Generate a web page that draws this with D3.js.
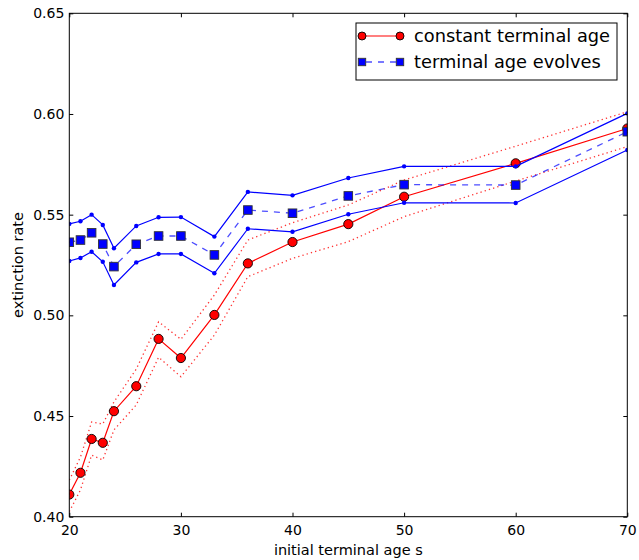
<!DOCTYPE html>
<html>
<head>
<meta charset="utf-8">
<script src="https://cdn.jsdelivr.net/npm/d3@7/dist/d3.min.js"></script>
<style>
  html, body { margin: 0; padding: 0; background: #fff; }
  svg { display: block; font-family: "DejaVu Sans", sans-serif; }
</style>
</head>
<body>
<svg id="chart" width="639" height="560"></svg>
<script>
// initial terminal age s
const ages = [20, 21, 22, 23, 24, 26, 28, 30, 33, 36, 40, 45, 50, 60, 70];

// constant terminal age: mean and dotted error band
const constMean  = [0.4110, 0.4218, 0.4386, 0.4367, 0.4524, 0.4648, 0.4883, 0.4788, 0.5002, 0.5258, 0.5364, 0.5453, 0.5589, 0.5755, 0.5928];
const constUpper = [0.4182, 0.4296, 0.4470, 0.4460, 0.4570, 0.4733, 0.4968, 0.4881, 0.5101, 0.5374, 0.5460, 0.5548, 0.5672, 0.5840, 0.6011];
const constLower = [0.4025, 0.4133, 0.4306, 0.4282, 0.4431, 0.4555, 0.4792, 0.4695, 0.4902, 0.5192, 0.5283, 0.5366, 0.5490, 0.5667, 0.5838];

// terminal age evolves: mean and solid error band
const evolMean  = [0.5363, 0.5374, 0.5410, 0.5354, 0.5242, 0.5353, 0.5394, 0.5394, 0.5300, 0.5523, 0.5507, 0.5593, 0.5649, 0.5647, 0.5912];
const evolUpper = [0.5454, 0.5467, 0.5500, 0.5449, 0.5333, 0.5444, 0.5487, 0.5488, 0.5391, 0.5613, 0.5596, 0.5682, 0.5740, 0.5740, 0.6003];
const evolLower = [0.5270, 0.5285, 0.5316, 0.5266, 0.5151, 0.5263, 0.5305, 0.5305, 0.5209, 0.5430, 0.5415, 0.5502, 0.5559, 0.5558, 0.5821];

const xTicks = [20, 30, 40, 50, 60, 70];
const yTicks = [0.40, 0.45, 0.50, 0.55, 0.60, 0.65];
const legendLabels = ["constant terminal age", "terminal age evolves"];

const svg = d3.select("#chart");
const plot = { left: 69.3, right: 627.3, top: 13.3, bottom: 516.7 };

const x = d3.scaleLinear().domain([20, 70]).range([plot.left, plot.right]);
const y = d3.scaleLinear().domain([0.40, 0.65]).range([plot.bottom, plot.top]);

svg.append("defs").append("clipPath").attr("id", "plotClip")
  .append("rect")
  .attr("x", plot.left).attr("y", plot.top)
  .attr("width", plot.right - plot.left).attr("height", plot.bottom - plot.top);

const g = svg.append("g").attr("clip-path", "url(#plotClip)");

const pts = vals => ages.map((a, i) => [a, vals[i]]);
const line = d3.line().x(d => x(d[0])).y(d => y(d[1]));

function drawLine(vals, color, width, dash, opacity) {
  g.append("path")
    .datum(pts(vals))
    .attr("d", line)
    .attr("fill", "none")
    .attr("stroke", color)
    .attr("stroke-width", width)
    .attr("stroke-opacity", opacity)
    .attr("stroke-dasharray", dash);
}

// constant terminal age
drawLine(constUpper, "#ff0000", 1.3, "1.3,3.1", 0.8);
drawLine(constLower, "#ff0000", 1.3, "1.3,3.1", 0.8);
drawLine(constMean, "#ff0000", 1.2, null, 1);
g.append("g").selectAll("circle")
  .data(pts(constMean)).join("circle")
  .attr("cx", d => x(d[0])).attr("cy", d => y(d[1])).attr("r", 4.6)
  .attr("fill", "#ff0000").attr("stroke", "#000").attr("stroke-width", 0.9);

// terminal age evolves
[evolUpper, evolLower].forEach(vals => {
  drawLine(vals, "#0000ff", 1.2, null, 1);
  g.append("g").selectAll("circle")
    .data(pts(vals)).join("circle")
    .attr("cx", d => x(d[0])).attr("cy", d => y(d[1])).attr("r", 2.2)
    .attr("fill", "#0000ff");
});
drawLine(evolMean, "#0000ff", 1.3, "6,6", 0.7);
const sq = 8.6;
g.append("g").selectAll("rect")
  .data(pts(evolMean)).join("rect")
  .attr("x", d => x(d[0]) - sq / 2).attr("y", d => y(d[1]) - sq / 2)
  .attr("width", sq).attr("height", sq)
  .attr("fill", "#0000ff").attr("stroke", "#333").attr("stroke-width", 0.9);

// frame
svg.append("rect")
  .attr("x", plot.left).attr("y", plot.top)
  .attr("width", plot.right - plot.left).attr("height", plot.bottom - plot.top)
  .attr("fill", "none").attr("stroke", "#000").attr("stroke-width", 1);

// axes with inward ticks on all four sides
const tickLen = 4;
const axB = svg.append("g").attr("transform", `translate(0,${plot.bottom})`)
  .call(d3.axisBottom(x).tickValues(xTicks).tickFormat(d3.format("d")).tickSizeInner(-tickLen).tickSizeOuter(0).tickPadding(8));
const axT = svg.append("g").attr("transform", `translate(0,${plot.top})`)
  .call(d3.axisTop(x).tickValues(xTicks).tickFormat("").tickSizeInner(-tickLen).tickSizeOuter(0));
const axL = svg.append("g").attr("transform", `translate(${plot.left},0)`)
  .call(d3.axisLeft(y).tickValues(yTicks).tickFormat(d3.format(".2f")).tickSizeInner(-tickLen).tickSizeOuter(0).tickPadding(5));
const axR = svg.append("g").attr("transform", `translate(${plot.right},0)`)
  .call(d3.axisRight(y).tickValues(yTicks).tickFormat("").tickSizeInner(-tickLen).tickSizeOuter(0));

[axB, axT, axL, axR].forEach(a => {
  a.select(".domain").remove();
  a.selectAll("line").attr("stroke", "#000").attr("stroke-width", 1);
  a.selectAll("text").attr("font-family", "DejaVu Sans").attr("font-size", 14).attr("fill", "#000");
});

// axis titles
svg.append("text")
  .attr("x", (plot.left + plot.right) / 2).attr("y", 555)
  .attr("text-anchor", "middle").attr("font-size", 14.5)
  .text("initial terminal age s");
svg.append("text")
  .attr("transform", `translate(23,${(plot.top + plot.bottom) / 2}) rotate(-90)`)
  .attr("text-anchor", "middle").attr("font-size", 14.5)
  .text("extinction rate");

// legend
const leg = svg.append("g");
leg.append("rect")
  .attr("x", 356).attr("y", 23).attr("width", 261).attr("height", 57)
  .attr("fill", "#fff").attr("stroke", "#000").attr("stroke-width", 1);
const rows = [36, 62];
const lx0 = 362, lx1 = 400;
// row 1: red circle marker line
leg.append("line").attr("x1", lx0).attr("x2", lx1).attr("y1", rows[0]).attr("y2", rows[0])
  .attr("stroke", "#ff0000").attr("stroke-width", 1.2);
[lx0, lx1].forEach(px => leg.append("circle").attr("cx", px).attr("cy", rows[0]).attr("r", 4)
  .attr("fill", "#ff0000").attr("stroke", "#000").attr("stroke-width", 0.9));
// row 2: blue dashed square marker line
leg.append("line").attr("x1", lx0).attr("x2", lx1).attr("y1", rows[1]).attr("y2", rows[1])
  .attr("stroke", "#0000ff").attr("stroke-opacity", 0.7).attr("stroke-width", 1.3).attr("stroke-dasharray", "6,6")
  .attr("stroke-dashoffset", -4);
[lx0, lx1].forEach(px => leg.append("rect").attr("x", px - 3.7).attr("y", rows[1] - 3.7)
  .attr("width", 7.4).attr("height", 7.4)
  .attr("fill", "#0000ff").attr("stroke", "#333").attr("stroke-width", 0.9));
legendLabels.forEach((t, i) => leg.append("text")
  .attr("x", 414).attr("y", rows[i]).attr("dy", "0.36em")
  .attr("font-size", 17.8).text(t));
</script>
</body>
</html>
